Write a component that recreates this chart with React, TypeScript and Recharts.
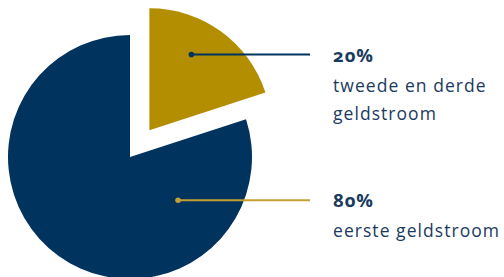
import { Cell, Pie, PieChart } from "recharts";

// share of funding per money stream, in percent
const categories = ["tweede en derde geldstroom", "eerste geldstroom"];
const shares = [20, 80];
const labelLines = [["tweede en derde", "geldstroom"], ["eerste geldstroom"]];

const NAVY = "#00335e";
const GOLD = "#b38e00";
const GOLD_LINE = "#c4a032";
const TEXT = "#1b3a60";
const FONT = "'Open Sans', sans-serif";

const data = categories.map((name, i) => ({ name, value: shares[i] }));

const CX = 130;
const CY = 157;
const R = 122;
const EXPLODE = 33;
const START = 90;
const RAD = Math.PI / 180;

// the first slice is pulled out along its mid angle
const total = shares.reduce((a, b) => a + b, 0);
const mid0 = START - ((shares[0] / total) * 360) / 2;
const dx = EXPLODE * Math.cos(mid0 * RAD);
const dy = -EXPLODE * Math.sin(mid0 * RAD);

// where the leader line starts inside each slice (angle, fraction of radius)
const anchors = [
  { angle: 61, ratio: 0.71 },
  { angle: -42, ratio: 0.53 },
];
const LINE_END = CX + 180;
const TEXT_X = CX + 203;

const renderLabel = (slice: number) => (props: any) => {
  const { cx, cy, outerRadius, index, percent } = props;
  if (index !== slice) return <g />;
  const a = anchors[index];
  const x = cx + outerRadius * a.ratio * Math.cos(a.angle * RAD);
  const y = cy - outerRadius * a.ratio * Math.sin(a.angle * RAD);
  const lineColor = index === 0 ? NAVY : GOLD_LINE;
  return (
    <g>
      <line x1={x} y1={y} x2={LINE_END} y2={y} stroke={lineColor} strokeWidth={2} />
      <circle cx={x} cy={y} r={2.8} fill={lineColor} />
      <text x={TEXT_X} y={y + 7} fill={TEXT} fontFamily={FONT} fontSize={17.5}>
        <tspan
          x={TEXT_X}
          fontWeight={700}
          fontSize={18.5}
          letterSpacing={1}
          style={{ fontVariantNumeric: "oldstyle-nums" }}
        >
          {`${Math.round(percent * 100)}%`}
        </tspan>
        {labelLines[index].map((t, k) => (
          <tspan key={k} x={TEXT_X} dy={k === 0 ? 30 : 28} letterSpacing={1.05}>
            {t}
          </tspan>
        ))}
      </text>
    </g>
  );
};

export default function App() {
  return (
    <div style={{ position: "absolute", left: 0, top: 0, background: "#fff" }}>
      <PieChart width={504} height={277} margin={{ top: 0, right: 0, bottom: 0, left: 0 }}>
        <Pie
          data={data}
          dataKey="value"
          nameKey="name"
          cx={CX}
          cy={CY}
          outerRadius={R}
          startAngle={START}
          endAngle={START - 360}
          stroke="none"
          label={renderLabel(1)}
          labelLine={false}
          isAnimationActive={false}
        >
          <Cell fill="none" />
          <Cell fill={NAVY} />
        </Pie>
        <Pie
          data={data}
          dataKey="value"
          nameKey="name"
          cx={CX + dx}
          cy={CY + dy}
          outerRadius={R}
          startAngle={START}
          endAngle={START - 360}
          stroke="none"
          label={renderLabel(0)}
          labelLine={false}
          isAnimationActive={false}
        >
          <Cell fill={GOLD} />
          <Cell fill="none" />
        </Pie>
      </PieChart>
    </div>
  );
}
